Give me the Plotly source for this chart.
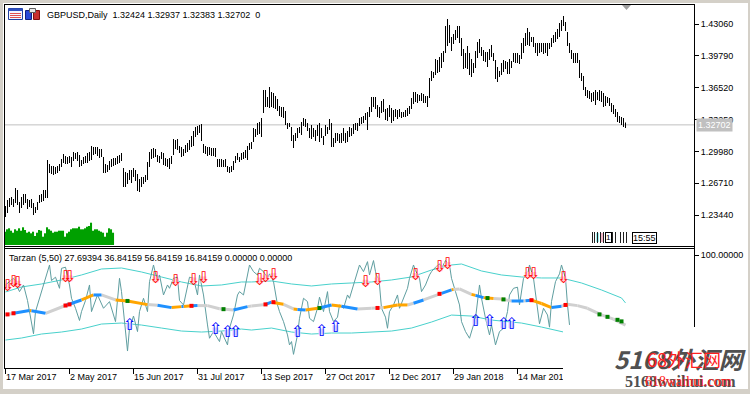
import numpy as np
import pandas as pd
import plotly.graph_objects as go

W, H = 750, 394

# ---------------- data ----------------
symbol = "GBPUSD"
period = "Daily"
last_bar = [1.32424, 1.32937, 1.32383, 1.32702]  # O H L C of last bar
first_day = "2017-03-17"
holidays = ["2017-12-25", "2018-01-01"]

high = [
    1.2437, 1.2498, 1.2519, 1.2529, 1.2509, 1.2622, 1.2601, 1.2478, 1.2529, 1.2560,
    1.2560, 1.2509, 1.2498, 1.2509, 1.2468, 1.2427, 1.2478, 1.2550, 1.2560, 1.2601,
    1.2601, 1.2909, 1.2868, 1.2848, 1.2848, 1.2837, 1.2848, 1.2868, 1.2920, 1.2971,
    1.2950, 1.2940, 1.2950, 1.2940, 1.2991, 1.2981, 1.2991, 1.2961, 1.2909, 1.2940,
    1.2950, 1.2981, 1.2991, 1.3053, 1.3043, 1.3043, 1.3043, 1.3022, 1.3022, 1.2940,
    1.2868, 1.2858, 1.2899, 1.2920, 1.2930, 1.2930, 1.2950, 1.2961, 1.2981, 1.2827,
    1.2786, 1.2776, 1.2807, 1.2807, 1.2827, 1.2807, 1.2765, 1.2714, 1.2735, 1.2735,
    1.2755, 1.2889, 1.2991, 1.3022, 1.3033, 1.3022, 1.2961, 1.2950, 1.2991, 1.2981,
    1.2930, 1.2920, 1.2930, 1.2950, 1.3125, 1.3115, 1.3125, 1.3053, 1.3043, 1.3022,
    1.3063, 1.3084, 1.3115, 1.3156, 1.3207, 1.3248, 1.3258, 1.3269, 1.3279, 1.3074,
    1.3053, 1.3043, 1.3043, 1.3033, 1.3033, 1.3033, 1.2920, 1.2920, 1.2920, 1.2909,
    1.2920, 1.2848, 1.2837, 1.2848, 1.2899, 1.2950, 1.2981, 1.2940, 1.2981, 1.2991,
    1.3012, 1.3053, 1.3084, 1.3094, 1.3238, 1.3228, 1.3289, 1.3300, 1.3341, 1.3628,
    1.3628, 1.3556, 1.3659, 1.3608, 1.3597, 1.3567, 1.3536, 1.3464, 1.3454, 1.3454,
    1.3413, 1.3289, 1.3289, 1.3248, 1.3166, 1.3187, 1.3238, 1.3248, 1.3300, 1.3341,
    1.3330, 1.3289, 1.3238, 1.3269, 1.3238, 1.3217, 1.3269, 1.3289, 1.3238, 1.3156,
    1.3269, 1.3248, 1.3330, 1.3289, 1.3135, 1.3187, 1.3187, 1.3176, 1.3187, 1.3238,
    1.3187, 1.3207, 1.3248, 1.3238, 1.3279, 1.3289, 1.3289, 1.3341, 1.3351, 1.3361,
    1.3392, 1.3402, 1.3454, 1.3556, 1.3556, 1.3556, 1.3474, 1.3454, 1.3515, 1.3536,
    1.3433, 1.3443, 1.3474, 1.3443, 1.3423, 1.3433, 1.3423, 1.3433, 1.3402, 1.3402,
    1.3423, 1.3443, 1.3464, 1.3546, 1.3608, 1.3608, 1.3587, 1.3577, 1.3597, 1.3587,
    1.3567, 1.3567, 1.3752, 1.3823, 1.3813, 1.3947, 1.3936, 1.3967, 1.4008, 1.4029,
    1.4286, 1.4357, 1.4296, 1.4173, 1.4203, 1.4244, 1.4286, 1.4286, 1.4162, 1.4049,
    1.4008, 1.4080, 1.4008, 1.3947, 1.3905, 1.4029, 1.4121, 1.4152, 1.4070, 1.4039,
    1.4018, 1.4018, 1.4049, 1.4090, 1.4008, 1.3936, 1.3864, 1.3823, 1.3905, 1.3936,
    1.3926, 1.3916, 1.3947, 1.3926, 1.4008, 1.4008, 1.4008, 1.3988, 1.4111, 1.4162,
    1.4214, 1.4265, 1.4224, 1.4173, 1.4173, 1.4111, 1.4111, 1.4111, 1.4111, 1.4111,
    1.4111, 1.4111, 1.4111, 1.4162, 1.4193, 1.4224, 1.4255, 1.4316, 1.4347, 1.4388,
    1.4327, 1.4224, 1.4111, 1.4039, 1.4008, 1.4008, 1.4008, 1.3936, 1.3803, 1.3772,
    1.3659, 1.3628, 1.3618, 1.3597, 1.3608, 1.3628, 1.3608, 1.3628, 1.3618, 1.3597,
    1.3567, 1.3556, 1.3546, 1.3495, 1.3474, 1.3433, 1.3402, 1.3361, 1.3351, 1.3341, 1.32937,
]
low = [
    1.2324, 1.2365, 1.2427, 1.2447, 1.2427, 1.2468, 1.2447, 1.2365, 1.2416, 1.2447,
    1.2468, 1.2406, 1.2427, 1.2416, 1.2344, 1.2365, 1.2396, 1.2468, 1.2478, 1.2488,
    1.2519, 1.2519, 1.2776, 1.2765, 1.2755, 1.2765, 1.2776, 1.2796, 1.2837, 1.2878,
    1.2868, 1.2868, 1.2878, 1.2837, 1.2899, 1.2920, 1.2899, 1.2837, 1.2848, 1.2868,
    1.2878, 1.2878, 1.2899, 1.2909, 1.2961, 1.2971, 1.2950, 1.2930, 1.2940, 1.2776,
    1.2776, 1.2786, 1.2807, 1.2837, 1.2848, 1.2858, 1.2868, 1.2878, 1.2899, 1.2632,
    1.2632, 1.2663, 1.2704, 1.2673, 1.2735, 1.2694, 1.2591, 1.2581, 1.2632, 1.2663,
    1.2683, 1.2704, 1.2837, 1.2920, 1.2930, 1.2940, 1.2889, 1.2878, 1.2920, 1.2858,
    1.2848, 1.2837, 1.2817, 1.2868, 1.2961, 1.3022, 1.3012, 1.2981, 1.2940, 1.2950,
    1.2981, 1.2991, 1.3012, 1.3043, 1.3053, 1.3146, 1.3166, 1.3187, 1.3104, 1.2981,
    1.2971, 1.2950, 1.2961, 1.2950, 1.2950, 1.2940, 1.2837, 1.2837, 1.2837, 1.2837,
    1.2837, 1.2786, 1.2776, 1.2786, 1.2807, 1.2878, 1.2909, 1.2889, 1.2909, 1.2920,
    1.2930, 1.2909, 1.3012, 1.3022, 1.3094, 1.3146, 1.3166, 1.3176, 1.3146, 1.3392,
    1.3454, 1.3454, 1.3443, 1.3454, 1.3443, 1.3433, 1.3413, 1.3361, 1.3351, 1.3341,
    1.3269, 1.3228, 1.3248, 1.3104, 1.3033, 1.3104, 1.3135, 1.3187, 1.3166, 1.3258,
    1.3248, 1.3207, 1.3135, 1.3125, 1.3146, 1.3104, 1.3156, 1.3094, 1.3135, 1.3063,
    1.3156, 1.3176, 1.3217, 1.3043, 1.3043, 1.3084, 1.3104, 1.3084, 1.3084, 1.3104,
    1.3084, 1.3094, 1.3146, 1.3156, 1.3176, 1.3217, 1.3207, 1.3258, 1.3279, 1.3289,
    1.3320, 1.3217, 1.3351, 1.3402, 1.3454, 1.3433, 1.3351, 1.3341, 1.3392, 1.3402,
    1.3320, 1.3310, 1.3351, 1.3289, 1.3310, 1.3351, 1.3330, 1.3351, 1.3341, 1.3351,
    1.3351, 1.3361, 1.3382, 1.3433, 1.3484, 1.3505, 1.3495, 1.3515, 1.3515, 1.3495,
    1.3495, 1.3454, 1.3546, 1.3721, 1.3752, 1.3782, 1.3803, 1.3813, 1.3854, 1.3916,
    1.4008, 1.4080, 1.4111, 1.4029, 1.4101, 1.4142, 1.4162, 1.4111, 1.3977, 1.3844,
    1.3854, 1.3844, 1.3782, 1.3762, 1.3803, 1.3854, 1.3957, 1.4008, 1.3977, 1.3926,
    1.3916, 1.3864, 1.3936, 1.3967, 1.3926, 1.3741, 1.3710, 1.3762, 1.3782, 1.3813,
    1.3844, 1.3793, 1.3793, 1.3854, 1.3916, 1.3905, 1.3905, 1.3895, 1.3947, 1.4008,
    1.4080, 1.4090, 1.4080, 1.4121, 1.4070, 1.4008, 1.3977, 1.4008, 1.4018, 1.3998,
    1.4008, 1.3977, 1.4049, 1.4070, 1.4111, 1.4121, 1.4152, 1.4173, 1.4234, 1.4286,
    1.4234, 1.4080, 1.4008, 1.3947, 1.3905, 1.3905, 1.3905, 1.3752, 1.3721, 1.3628,
    1.3567, 1.3546, 1.3536, 1.3505, 1.3515, 1.3474, 1.3526, 1.3515, 1.3505, 1.3454,
    1.3464, 1.3495, 1.3464, 1.3402, 1.3382, 1.3351, 1.3300, 1.3289, 1.3269, 1.3248, 1.32383,
]
# tick volume of the first bars (shown as green histogram)
volume = [
    133, 157, 167, 143, 123, 157, 143, 167, 143, 177,
    150, 123, 133, 117, 133, 90, 123, 150, 143, 83,
    117, 177, 157, 143, 123, 133, 133, 143, 143, 143,
    83, 117, 133, 157, 167, 167, 167, 183, 157, 157,
    167, 183, 190, 223, 143, 157, 157, 143, 133, 123,
    83, 123, 167, 157, 123,
]
price_ticks = [1.23440, 1.26710, 1.29980, 1.33250, 1.36520, 1.39790, 1.43060]
date_tick_bars = [0, 32, 64, 96, 128, 160, 192, 224, 256]

tarzan_name = "Tarzan (5,50)"
tarzan_last = [27.69394, 36.84159, 56.84159, 16.84159, 0.0, 0.0]
osc_ticks = [100.0]

osc_x = [0, 4, 7, 9, 11, 12, 14, 15, 17, 18, 20, 22, 23, 25, 27, 28, 30, 32, 33, 35,
         37, 38, 40, 42, 43, 46, 49, 52, 55, 57, 58, 61, 62, 64, 66, 67, 69, 71, 72, 74,
         76, 77, 79, 81, 82, 84, 86, 87, 89, 91, 92, 94, 96, 97, 99, 101, 102, 104, 107, 108,
         111, 112, 114, 116, 117, 119, 121, 122, 124, 126, 127, 129, 131, 132, 134, 136, 137, 139, 141, 142,
         143, 144, 146, 147, 149, 151, 152, 154, 156, 157, 159, 161, 162, 164, 166, 167, 169, 171, 172, 174,
         176, 177, 179, 181, 182, 184, 185, 187, 188, 190, 191, 192, 194, 196, 197, 199, 201, 202, 204, 205,
         207, 208, 210, 212, 213, 215, 217, 218, 220, 222, 223, 225, 227, 228, 230, 232, 233, 235, 237, 238,
         240, 242, 243, 245, 247, 249, 251, 252, 254, 256, 257, 259, 261, 262, 264, 266, 267, 269, 271, 272,
         273, 275, 277, 278, 280, 281, 282]
osc_y = [73, 79, 67, 73, 59, 49, 29, 49, 61, 68, 80, 91, 77, 80, 70, 88, 89, 73, 61, 52,
         41, 49, 59, 73, 49, 64, 52, 58, 40, 79, 67, 13.5, 34, 45, 31, 49, 61, 49, 76, 91,
         76, 82, 64, 73, 70, 79, 80, 59, 55, 70, 80, 79, 64, 82, 64, 37, 25, 31, 22, 31,
         19, 34, 46, 64, 67, 64, 80, 91, 85, 82, 88, 85, 79, 83, 76, 55, 49, 40, 28, 19,
         22, 10.5, 28, 43, 61, 58, 43, 40, 52, 62, 49, 67, 49, 40, 44, 55, 52, 64, 61, 73,
         85, 91, 85, 94, 82, 95, 85, 73, 52, 44, 34, 49, 55, 64, 52, 61, 70, 79, 91, 86,
         79, 67, 73, 82, 85, 89, 92, 88, 95, 91, 79, 67, 55, 40, 31, 25, 31, 43, 73, 61,
         43, 28, 37, 19, 31, 34, 49, 64, 70, 71, 55, 79, 82, 91, 79, 52, 38, 52, 46, 35,
         58, 76, 83, 91, 79, 55, 37]

upper_x = [0, 8, 18, 28, 38, 48, 58, 68, 78, 88, 98, 108, 118, 123, 133, 143, 153, 163, 173, 183,
           193, 203, 213, 223, 228, 238, 248, 258, 268, 278, 288, 298, 308, 310]
upper_y = [66.7, 71.2, 73.9, 77.5, 82, 87.4, 88.3, 84.7, 80.2, 75.7, 72.1, 73, 75.7, 75.7, 76.6, 73.9,
           72.1, 73.9, 74.8, 75.7, 77.5, 80.2, 86.5, 91, 91.9, 85.6, 82, 80.2, 79.3, 79.3, 74.8, 68.5,
           61.3, 56.84]
lower_x = [0, 8, 18, 28, 38, 48, 58, 68, 78, 88, 98, 108, 118, 123, 133, 143, 153, 163, 173, 183,
           193, 203, 213, 223, 233, 243, 248, 258, 268, 278, 279]
lower_y = [23.4, 25.2, 28.8, 30.6, 33.3, 37.8, 38.7, 36.9, 34.2, 31.5, 30.6, 31.5, 33.3, 32.4, 34.2,
           30.6, 28.8, 29.7, 29.7, 30.6, 31.5, 34.2, 39.6, 45.9, 45, 41.4, 40.5, 38.7, 35.1, 31.5, 30.6]

mid_x = [0, 4, 12, 13, 20, 30, 38, 44, 48, 55, 61, 71, 76, 83, 88, 89, 93, 96, 101, 107,
         114, 121, 123, 130, 133, 139, 144, 146, 150, 157, 163, 168, 176, 183, 189, 196, 201, 204, 209, 218,
         223, 224, 227, 233, 235, 239, 244, 248, 249, 253, 259, 260, 263, 268, 273, 278, 280, 281, 286, 291,
         298, 304, 310]
mid_y = [46, 47.5, 50, 49.7, 47.5, 54.5, 59.5, 64, 64, 59.5, 58.6, 55.3, 54.8, 52.6, 53.5, 53.6, 54.2, 54.4, 54.4, 51.6,
         50.5, 53.5, 54, 55.5, 57.5, 55.6, 51.4, 51, 50.5, 52.2, 55, 53.8, 51.4, 52, 52.6, 55, 55, 56.5, 59.5, 65.5,
         68.6, 69, 69.4, 64.5, 63.6, 61.6, 60.8, 60.4, 60, 58.5, 58.6, 58.8, 59.3, 56.3, 52.6, 53.8, 55, 55.6, 54.4, 52,
         46, 42.3, 36.84]
mid_state = ["g", "b", "o", "b", "g", "b", "o", "b", "g", "o",
             "o", "g", "b", "o", "b", "o", "b", "g", "g", "g",
             "b", "g", "g", "b", "o", "g", "o", "b", "o", "b",
             "o", "b", "g", "g", "o", "o", "g", "b", "g", "b",
             "o", "g", "g", "o", "b", "o", "g", "o", "g", "b",
             "g", "b", "o", "o", "b", "g", "o", "g", "g", "g",
             "g", "g", "g"]
red_dot_x = [1, 4, 30, 32, 93, 130, 134, 186, 217, 263, 280]
red_dot_y = [46.5, 47.5, 54.5, 55.5, 54.2, 55.5, 57.5, 52.3, 65, 59.3, 55]
green_dot_x = [61, 109, 157, 241, 249, 297, 301, 306, 308]
green_dot_y = [58.6, 51.2, 52.2, 61.2, 60, 46.5, 44.3, 41.6, 40.2]

sell_x = [1, 4, 6, 30, 32, 75, 85, 94, 99, 127, 130, 134, 180, 186, 205, 217, 221, 261, 264, 279]
sell_y = [71, 75, 74, 79, 79, 78, 76, 77, 78, 77, 79, 81, 75, 77, 81, 88, 91, 82, 82, 78]
buy_x = [62, 105, 111, 115, 146, 158, 165, 235, 242, 249, 253]
buy_y = [36, 32, 30, 30, 30, 31, 34, 40, 40, 37, 37]

# ---------------- helpers ----------------
def fx(x):
    return x / W

def fy(y):
    return 1 - y / H

FONT = "Liberation Sans, Arial, sans-serif"
n = len(high)
idx = np.arange(n)
high_a = np.array(high)
low_a = np.array(low)
dates = pd.bdate_range(first_day, periods=n + 60, freq="C", holidays=holidays)
date_labels = [f"{dates[i].day} {dates[i]:%b %Y}" for i in date_tick_bars]

# pixel geometry of the panels
L, R = 5, 694
MAIN_T, MAIN_B = 4, 245
SUB_T, SUB_B = 249, 368
xr = [-0.25, -0.25 + (R - L) / 2.0]
price_at = lambda y: 1.45525 - 0.001027 * y
osc_at = lambda y: (366 - y) / 1.11

fig = go.Figure()

# price bars
fig.add_trace(go.Bar(x=idx, y=high_a - low_a, base=low_a, width=0.5,
                     marker=dict(color="black", line=dict(width=0)),
                     xaxis="x", yaxis="y", hoverinfo="skip"))
# volumes
fig.add_trace(go.Bar(x=idx[:len(volume)], y=volume, width=0.55,
                     marker=dict(color="#00A000", line=dict(width=0)),
                     xaxis="x", yaxis="y2", hoverinfo="skip"))

# lower panel: bands
fig.add_trace(go.Scatter(x=upper_x, y=upper_y, mode="lines", line=dict(color="#48D1CC", width=1),
                         xaxis="x2", yaxis="y3"))
fig.add_trace(go.Scatter(x=lower_x, y=lower_y, mode="lines", line=dict(color="#48D1CC", width=1),
                         xaxis="x2", yaxis="y3"))
# oscillator
fig.add_trace(go.Scatter(x=osc_x, y=osc_y, mode="lines", line=dict(color="#5F9EA0", width=1),
                         xaxis="x2", yaxis="y3"))
# middle line, coloured by state
state_col = {"g": "#D0D0D0", "o": "#FFA500", "b": "#1E90FF"}
for st, colr in state_col.items():
    xs, ys = [], []
    for i in range(len(mid_x) - 1):
        if mid_state[i] == st:
            xs += [mid_x[i], mid_x[i + 1], None]
            ys += [mid_y[i], mid_y[i + 1], None]
    fig.add_trace(go.Scatter(x=xs, y=ys, mode="lines", line=dict(color=colr, width=3),
                             xaxis="x2", yaxis="y3"))
fig.add_trace(go.Scatter(x=red_dot_x, y=red_dot_y, mode="markers",
                         marker=dict(color="#FF0000", size=4, symbol="square"),
                         xaxis="x2", yaxis="y3"))
fig.add_trace(go.Scatter(x=green_dot_x, y=green_dot_y, mode="markers",
                         marker=dict(color="#008000", size=4, symbol="square"),
                         xaxis="x2", yaxis="y3"))
# arrows: light fill under an outlined glyph
fig.add_trace(go.Scatter(x=sell_x, y=sell_y, mode="markers",
                         marker=dict(color="#FFD0DC", size=6, symbol="square", line=dict(width=0)),
                         xaxis="x2", yaxis="y3"))
fig.add_trace(go.Scatter(x=buy_x, y=buy_y, mode="markers",
                         marker=dict(color="#D8D8FF", size=6, symbol="square", line=dict(width=0)),
                         xaxis="x2", yaxis="y3"))
fig.add_trace(go.Scatter(x=sell_x, y=sell_y, mode="text", text=["\u21e9"] * len(sell_x),
                         textfont=dict(color="#FF0000", size=16, family="DejaVu Sans"),
                         xaxis="x2", yaxis="y3"))
fig.add_trace(go.Scatter(x=buy_x, y=buy_y, mode="text", text=["\u21e7"] * len(buy_x),
                         textfont=dict(color="#0000FF", size=16, family="DejaVu Sans"),
                         xaxis="x2", yaxis="y3"))

tickfont = dict(family=FONT, size=9, color="black")
fig.update_layout(
    width=W, height=H, margin=dict(l=0, r=0, t=0, b=0, autoexpand=False),
    paper_bgcolor="white", plot_bgcolor="white", showlegend=False,
    barmode="overlay",
    xaxis=dict(domain=[fx(L), fx(R)], range=xr, visible=False, anchor="y"),
    yaxis=dict(domain=[fy(MAIN_B), fy(MAIN_T)], range=[price_at(MAIN_B), price_at(MAIN_T)],
               side="right", anchor="x", tickvals=price_ticks,
               ticktext=[f"{v:.5f}" for v in price_ticks], ticks="outside", ticklen=4,
               tickcolor="black", showgrid=False, zeroline=False, showline=False, tickfont=tickfont,
               automargin=False),
    yaxis2=dict(overlaying="y", range=[0, (MAIN_B - MAIN_T) * 10], visible=False),
    xaxis2=dict(domain=[fx(L), fx(R)], range=xr, anchor="y3", tickvals=date_tick_bars,
                ticktext=date_labels, ticks="outside", ticklen=5, tickcolor="black",
                ticklabelposition="outside right", showgrid=False, zeroline=False,
                showline=False, tickfont=tickfont, automargin=False),
    yaxis3=dict(domain=[fy(SUB_B), fy(SUB_T)], range=[osc_at(SUB_B), osc_at(SUB_T)],
                side="right", anchor="x2", tickvals=osc_ticks,
                ticktext=[f"{v:.5f}" for v in osc_ticks], ticks="outside", ticklen=4,
                tickcolor="black", showgrid=False, zeroline=False, showline=False, tickfont=tickfont,
                automargin=False),
)

shapes = []
def rect(x0, y0, x1, y1, fill, line=None, layer="below", lw=1):
    shapes.append(dict(type="rect", xref="paper", yref="paper", x0=fx(x0), x1=fx(x1),
                       y0=fy(y0), y1=fy(y1), fillcolor=fill,
                       line=dict(color=line or fill, width=lw if line else 0), layer=layer))
def seg(x0, y0, x1, y1, color="black", w=1, layer="above"):
    shapes.append(dict(type="line", xref="paper", yref="paper", x0=fx(x0), x1=fx(x1),
                       y0=fy(y0), y1=fy(y1), line=dict(color=color, width=w), layer=layer))

# window frame
rect(0, 0, 750, 3, "#D4D0C8")
rect(0, 0, 3, 394, "#D4D0C8")
rect(748, 0, 750, 394, "#D4D0C8")
rect(0, 389, 750, 394, "#D4D0C8")
# current price line
shapes.append(dict(type="line", xref="paper", yref="y", x0=fx(L), x1=fx(R),
                   y0=last_bar[3], y1=last_bar[3], line=dict(color="#C0C0C0", width=1), layer="below"))
# panel borders
seg(4.5, 4, 4.5, 368.5)
seg(4, 4.5, 694.5, 4.5)
seg(4, 246.5, 694.5, 246.5)
seg(4, 248.5, 694.5, 248.5)
seg(4, 368.5, 694.5, 368.5)
seg(694.5, 4, 694.5, 368.5)
# chart-shift marker
shapes.append(dict(type="path", xref="paper", yref="paper",
                   path=f"M {fx(622)},{fy(5)} L {fx(631)},{fy(5)} L {fx(626.5)},{fy(10)} Z",
                   fillcolor="#A0A0A0", line=dict(width=0)))
# title icons
rect(8.5, 8.5, 22.5, 19.5, "#F4F4FF", "#2040A0")
rect(8.5, 8.5, 22.5, 11, "#3050C0")
for yy in (13.5, 15.5, 17.5):
    seg(10, yy, 21, yy, "#E05050", 1)
rect(25.5, 10.5, 31.5, 19.5, "#2848D8", "#102080")
rect(33.5, 10.5, 39.5, 19.5, "#C83030", "#801010")
rect(29.5, 8.5, 35.5, 12.5, "#E8E8E8", "#606060")
# bottom-right status widget
for xx in (592.5, 594.5, 597.5, 600.5, 603.5, 612.5, 615.5, 620.5, 623.5, 626.5):
    seg(xx, 232, xx, 243, "#202020", 1)
rect(596, 233, 599, 242, "#A0F0F0")
rect(600, 233, 603, 242, "#F4B8C8")
# watermark background
rect(563, 327, 748, 389, "white", layer="above")
fig.update_layout(shapes=shapes)

ann = []
def text(x, y, s, size=9, color="black", xanchor="left", **kw):
    d = dict(x=fx(x), y=fy(y), xref="paper", yref="paper", text=s, showarrow=False,
             xanchor=xanchor, yanchor="middle", font=dict(family=kw.pop("family", FONT), size=size, color=color))
    d.update(kw)
    ann.append(d)

o, h, l, c = last_bar
text(45, 15, f"{symbol},{period}&nbsp;&nbsp;{o:.5f} {h:.5f} {l:.5f} {c:.5f}&nbsp;&nbsp;0")
text(7, 258, f"{tarzan_name} " + " ".join(f"{v:.5f}" for v in tarzan_last))
ann.append(dict(x=fx(696), y=c, xref="paper", yref="y", text=f"{c:.5f}", showarrow=False,
                xanchor="left", yanchor="middle", bgcolor="#C0C0C0", borderpad=1,
                font=dict(family=FONT, size=9, color="white")))
ann.append(dict(x=fx(632), y=fy(237.5), xref="paper", yref="paper", text="15:55", showarrow=False,
                xanchor="left", yanchor="middle", bordercolor="black", borderwidth=1, borderpad=0,
                bgcolor="white", font=dict(family=FONT, size=9, color="black")))
ann.append(dict(x=fx(608.5), y=fy(237.5), xref="paper", yref="paper", text="1", showarrow=False,
                xanchor="center", yanchor="middle", bordercolor="black", borderwidth=1, borderpad=0,
                bgcolor="white", font=dict(family=FONT, size=8, color="black")))
# watermark
text(680, 358, "<i><b>5168外汇网</b></i>", size=24, color="#505050", xanchor="center",
     family="Noto Sans CJK SC")
text(684, 359, "68外汇网", size=18, color="#FF2020", xanchor="center", family="Noto Sans CJK SC")
text(680, 381, "<b>5168waihui.com</b>", size=16, color="#505050", xanchor="center",
     family="Liberation Serif")
text(688, 381, "618waihui.com", size=14, color="#FF2020", xanchor="center", family="Liberation Serif")
fig.update_layout(annotations=ann)

fig.write_html("out.html", config={"displayModeBar": False},
               post_script="document.body.style.margin='0';document.body.style.overflow='hidden';")
